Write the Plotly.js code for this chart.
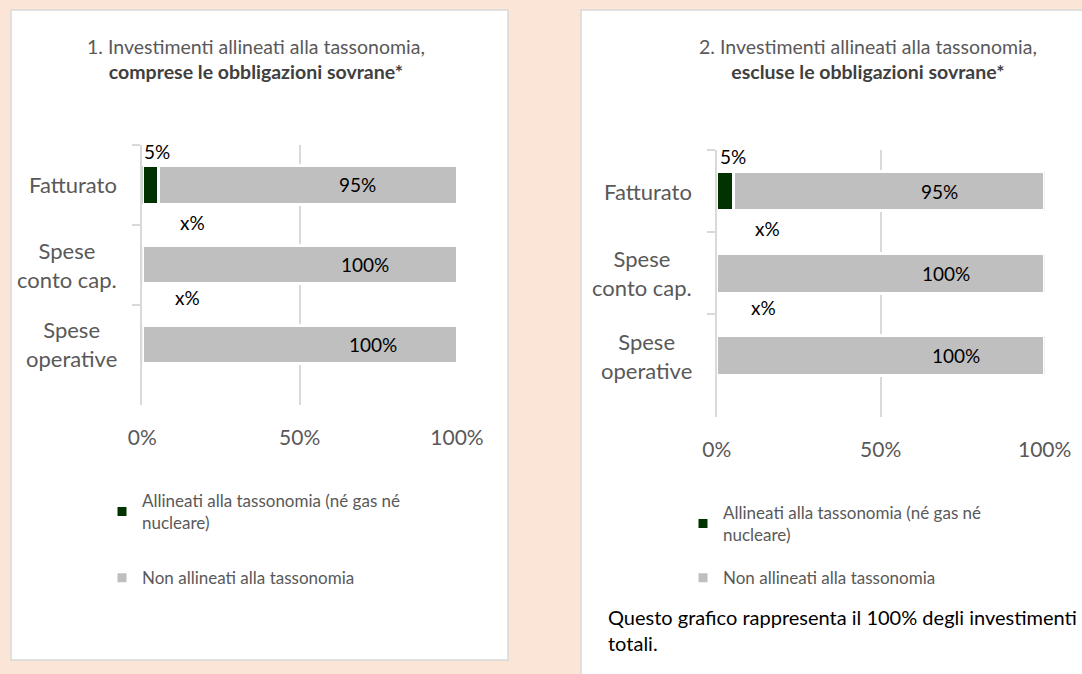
<!DOCTYPE html>
<html>
<head>
<meta charset="utf-8">
<script src="https://cdn.plot.ly/plotly-3.0.1.min.js"></script>
<style>html,body{margin:0;padding:0;background:#FBE5D6;}#chart{width:1082px;height:674px;}</style>
</head>
<body>
<div id="chart"></div>
<script>
// ---- data ----
const categories = ['Fatturato', 'Spese<br>conto cap.', 'Spese<br>operative'];
const alignedIncl = [5, 0, 0];
const notAlignedIncl = [95, 100, 100];
const alignedExcl = [5, 0, 0];
const notAlignedExcl = [95, 100, 100];
const alignedLabels = ['5%', 'x%', 'x%'];
const xTickValues = [0, 50, 100];
const xTickLabels = ['0%', '50%', '100%'];
const seriesNames = ['Allineati alla tassonomia (né gas né<br>nucleare)', 'Non allineati alla tassonomia'];
const panelTitles = [
  '1. Investimenti allineati alla tassonomia,<br><b style="color:#404040">comprese le obbligazioni sovrane*</b>',
  '2. Investimenti allineati alla tassonomia,<br><b style="color:#404040">escluse le obbligazioni sovrane*</b>'
];
const footnote = 'Questo grafico rappresenta il 100% degli investimenti<br>totali.';

// ---- styling / placement ----
const FONT = 'Lato, "Open Sans", sans-serif';
const GREEN = '#003300', GREY = '#BFBFBF', TXT = '#595959', GRID = '#D9D9D9';
const W = 1082, H = 674;
const px = v => v / W, py = v => 1 - v / H;

const panels = [
  {xa: 'x', ya: 'y', legend: 'legend', aligned: alignedIncl, notAligned: notAlignedIncl,
   xdom: [px(142.3), px(457)], ydom: [py(405), py(145)],
   greyLabelX: [68.5, 70.8, 73.3], greenLabel: [[4.6, 33], [15.8, 42], [14.5, 47]],
   titleX: px(256), legX: px(102), legY: py(483), gap: 30},
  {xa: 'x2', ya: 'y2', legend: 'legend2', aligned: alignedExcl, notAligned: notAlignedExcl,
   xdom: [px(716.7), px(1044.7)], ydom: [py(417), py(150)],
   greyLabelX: [68, 70, 73], greenLabel: [[5, 34.5], [15.6, 45], [14.4, 48]],
   titleX: px(868), legX: px(683), legY: py(495), gap: 18}
];

const data = [];
const annotations = [];
const layout = {
  width: W, height: H,
  margin: {l: 0, r: 0, t: 0, b: 0},
  paper_bgcolor: '#FBE5D6',
  plot_bgcolor: 'rgba(0,0,0,0)',
  barmode: 'stack',
  bargap: 0.52,
  font: {family: FONT, color: TXT},
  showlegend: true,
  shapes: [
    {type: 'rect', xref: 'paper', yref: 'paper', x0: px(11), x1: px(508), y0: py(660), y1: py(10),
     fillcolor: '#FFFFFF', line: {color: GRID, width: 1.5}, layer: 'below'},
    {type: 'rect', xref: 'paper', yref: 'paper', x0: px(581), x1: px(1095), y0: py(690), y1: py(10),
     fillcolor: '#FFFFFF', line: {color: GRID, width: 1.5}, layer: 'below'}
  ],
  annotations: annotations
};

panels.forEach((p, k) => {
  const sfx = k === 0 ? '' : '2';
  data.push({
    type: 'bar', orientation: 'h', x: p.aligned, y: categories,
    name: seriesNames[0], xaxis: p.xa, yaxis: p.ya, legend: p.legend, legendgroup: 'a' + k,
    marker: {color: GREEN, line: {color: '#FFFFFF', width: 3}},
    hoverinfo: 'x+y'
  });
  data.push({
    type: 'bar', orientation: 'h', x: p.notAligned, y: categories,
    name: seriesNames[1], xaxis: p.xa, yaxis: p.ya, legend: p.legend, legendgroup: 'b' + k,
    marker: {color: GREY, line: {color: '#FFFFFF', width: 3}},
    hoverinfo: 'x+y'
  });
  layout['xaxis' + sfx] = {
    domain: p.xdom, anchor: 'y' + sfx, range: [0, 100], fixedrange: true,
    tickvals: xTickValues, ticktext: xTickLabels,
    showgrid: true, gridcolor: GRID, gridwidth: 2, zeroline: false, showline: false,
    ticks: '', ticklabelstandoff: 18,
    tickfont: {family: FONT, size: 21, color: TXT}
  };
  layout['yaxis' + sfx] = {
    domain: p.ydom, anchor: 'x' + sfx, type: 'category', autorange: 'reversed', fixedrange: true,
    showline: true, linecolor: GRID, linewidth: 2,
    ticks: 'outside', tickson: 'boundaries', ticklen: 8, tickcolor: GRID, tickwidth: 2,
    showticklabels: false, showgrid: false, zeroline: false
  };
  layout[p.legend] = {
    x: p.legX, xanchor: 'left', y: p.legY, yanchor: 'top',
    bgcolor: 'rgba(0,0,0,0)', borderwidth: 0,
    font: {family: FONT, size: 17, color: TXT},
    tracegroupgap: p.gap,
    traceorder: 'grouped'
  };
  // title
  annotations.push({
    xref: 'paper', yref: 'paper', x: p.titleX, y: py(59), xanchor: 'center', yanchor: 'middle',
    text: panelTitles[k], showarrow: false, align: 'center',
    font: {family: FONT, size: 19.5, color: TXT}
  });
  categories.forEach((c, i) => {
    // category labels
    annotations.push({
      xref: p.xa + ' domain', yref: p.ya, x: 0, y: c, xanchor: 'right', yanchor: 'middle',
      xshift: -23, text: c, showarrow: false, align: 'center',
      font: {family: FONT, size: 22, color: TXT}
    });
    // grey value labels
    annotations.push({
      xref: p.xa, yref: p.ya, x: p.greyLabelX[i], y: c, xanchor: 'center', yanchor: 'middle',
      text: p.notAligned[i] + '%', showarrow: false,
      font: {family: FONT, size: 19, color: '#000000'}
    });
    // green value labels
    annotations.push({
      xref: p.xa, yref: p.ya, x: p.greenLabel[i][0], y: c, xanchor: 'center', yanchor: 'middle',
      yshift: p.greenLabel[i][1], text: alignedLabels[i], showarrow: false,
      font: {family: FONT, size: 19, color: '#000000'}
    });
  });
});

annotations.push({
  xref: 'paper', yref: 'paper', x: px(606), y: py(603), xanchor: 'left', yanchor: 'top',
  text: footnote, showarrow: false, align: 'left',
  font: {family: FONT, size: 20, color: '#000000'}
});

Plotly.newPlot('chart', data, layout, {displayModeBar: false, staticPlot: true});
</script>
</body>
</html>
